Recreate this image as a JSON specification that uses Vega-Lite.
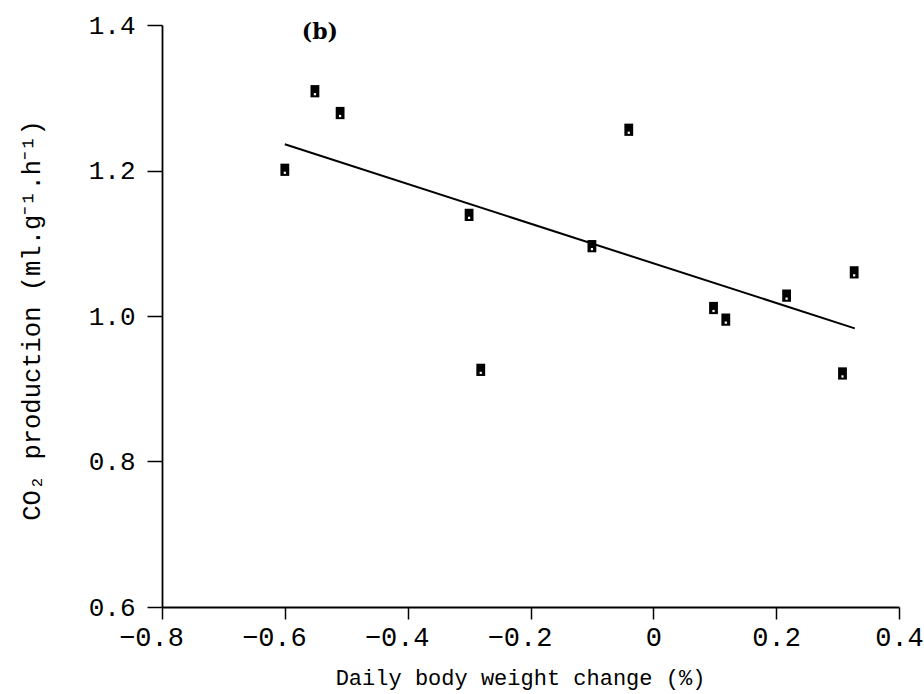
{
  "$schema": "https://vega.github.io/schema/vega-lite/v6.json",
  "width": 737,
  "height": 582,
  "autosize": {"type": "none"},
  "padding": {"left": 162, "top": 25, "right": 25, "bottom": 87},
  "background": "white",
  "config": {
    "view": {"stroke": null},
    "axis": {
      "grid": false,
      "domainColor": "black",
      "domainWidth": 1.8,
      "tickColor": "black",
      "tickWidth": 1.5,
      "labelColor": "black",
      "titleColor": "black",
      "labelFont": "Liberation Mono",
      "titleFont": "Liberation Mono",
      "titleFontWeight": "normal"
    }
  },
  "layer": [
    {
      "data": {
        "values": [
          {"change": -0.600, "co2": 1.201},
          {"change": -0.551, "co2": 1.309},
          {"change": -0.510, "co2": 1.279},
          {"change": -0.300, "co2": 1.139},
          {"change": -0.281, "co2": 0.926},
          {"change": -0.100, "co2": 1.096},
          {"change": -0.040, "co2": 1.256},
          {"change": 0.098, "co2": 1.011},
          {"change": 0.118, "co2": 0.995},
          {"change": 0.217, "co2": 1.028},
          {"change": 0.327, "co2": 1.060},
          {"change": 0.308, "co2": 0.921}
        ]
      },
      "layer": [
        {
          "mark": {
            "type": "point",
            "shape": "M-0.72,-1H0.72V1H-0.72Z",
            "filled": true,
            "color": "black",
            "opacity": 1,
            "size": 150
          },
          "encoding": {
            "x": {
              "field": "change",
              "type": "quantitative",
              "scale": {"domain": [-0.8, 0.4], "nice": false, "zero": false},
              "axis": {
                "values": [-0.8, -0.6, -0.4, -0.2, 0, 0.2, 0.4],
                "labelExpr": "datum.value == 0 ? '0' : format(datum.value, '.1f')",
                "labelOffset": {"condition": {"test": "datum.value < 0", "value": -11}, "value": 0},
                "tickSize": 12,
                "labelFontSize": 27,
                "labelPadding": 5,
                "labelFlush": false,
                "title": "Daily body weight change (%)",
                "titleFontSize": 22,
                "titlePadding": 17,
                "titleX": 358
              }
            },
            "y": {
              "field": "co2",
              "type": "quantitative",
              "scale": {"domain": [0.6, 1.4], "nice": false, "zero": false},
              "axis": {
                "values": [0.6, 0.8, 1.0, 1.2, 1.4],
                "format": ".1f",
                "tickSize": 15,
                "labelFontSize": 26,
                "labelPadding": 12,
                "labelFlush": false,
                "title": "CO₂ production (ml.g⁻¹.h⁻¹)",
                "titleFontSize": 25.5,
                "titleX": -118,
                "titleY": 295
              }
            }
          }
        },
        {
          "mark": {
            "type": "point",
            "shape": "square",
            "filled": true,
            "color": "white",
            "opacity": 1,
            "size": 5,
            "yOffset": 3
          },
          "encoding": {
            "x": {"field": "change", "type": "quantitative"},
            "y": {"field": "co2", "type": "quantitative"}
          }
        }
      ]
    },
    {
      "data": {
        "values": [
          {"change": -0.600, "co2": 1.236},
          {"change": 0.328, "co2": 0.983}
        ]
      },
      "mark": {"type": "line", "color": "black", "strokeWidth": 2},
      "encoding": {
        "x": {"field": "change", "type": "quantitative"},
        "y": {"field": "co2", "type": "quantitative"}
      }
    },
    {
      "data": {"values": [{"label": "(b)", "change": -0.543, "co2": 1.391}]},
      "mark": {
        "type": "text",
        "font": "DejaVu Serif",
        "fontWeight": "bold",
        "fontSize": 22,
        "color": "black",
        "baseline": "middle",
        "align": "center"
      },
      "encoding": {
        "x": {"field": "change", "type": "quantitative"},
        "y": {"field": "co2", "type": "quantitative"},
        "text": {"field": "label"}
      }
    }
  ]
}
